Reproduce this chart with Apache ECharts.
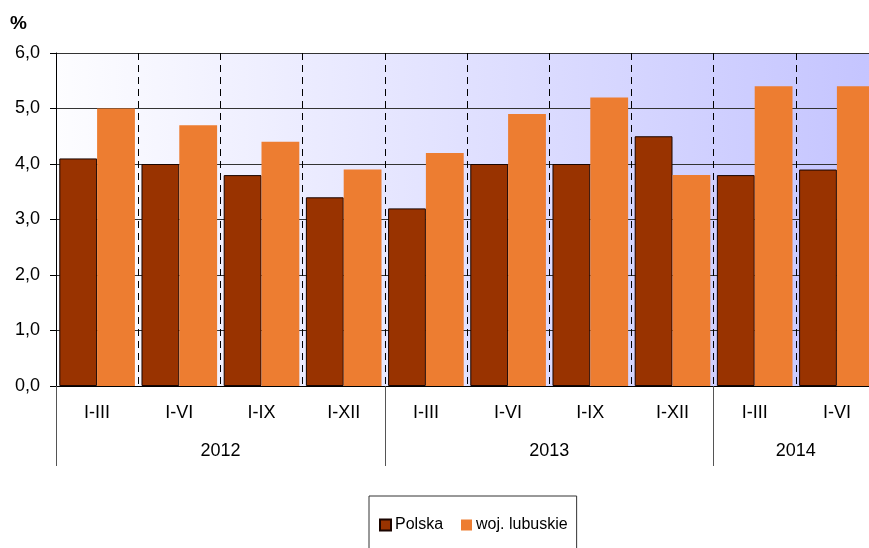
<!DOCTYPE html>
<html>
<head>
<meta charset="utf-8">
<script src="https://cdn.jsdelivr.net/npm/echarts@6/dist/echarts.min.js"></script>
<style>html,body{margin:0;padding:0;background:#fff;overflow:hidden;width:869px;height:548px;}#c{width:880px;height:548px;}</style>
</head>
<body>
<div id="c"></div>
<script>
var categories = ['I-III','I-VI','I-IX','I-XII','I-III','I-VI','I-IX','I-XII','I-III','I-VI'];
var years = ['2012','2013','2014'];
var yearCounts = [4,4,2];
var polska = [4.1,4.0,3.8,3.4,3.2,4.0,4.0,4.5,3.8,3.9];
var lubuskie = [5.0,4.7,4.4,3.9,4.2,4.9,5.2,3.8,5.4,5.4];
var yTicks = [0,1,2,3,4,5,6];

var bounds = [0], centers = [], acc = 0;
yearCounts.forEach(function(n){ centers.push(acc + n/2); acc += n; bounds.push(acc); });

var FONT = 'Liberation Sans, Arial, sans-serif';
var chart = echarts.init(document.getElementById('c'));
chart.setOption({
  animation: false,
  title: { text: '%', left: 10, top: 14, padding: 0, textStyle: { fontFamily: FONT, fontSize: 19, fontWeight: 'bold', color: '#000' } },
  grid: {
    left: 56, top: 53, width: 822, height: 333, show: true,
    borderWidth: 0,
    backgroundColor: new echarts.graphic.LinearGradient(0,0,1,0,[{offset:0,color:'#fdfdff'},{offset:1,color:'#c4c4ff'}])
  },
  legend: {
    left: 369, top: 496,
    padding: [21, 9, 21, 10],
    borderColor: '#333', borderWidth: 1,
    itemWidth: 11, itemHeight: 11, itemGap: 18,
    icon: 'rect',
    textStyle: { fontFamily: FONT, fontSize: 16, color: '#000', padding: [0,0,0,-1] },
    data: ['Polska','woj. lubuskie']
  },
  xAxis: [{
    type: 'category', data: categories, position: 'bottom',
    axisLine: { show: true, lineStyle: { color: '#000', width: 1 } },
    axisTick: { show: false },
    axisLabel: { margin: 18, fontFamily: FONT, fontSize: 18, color: '#000' },
    splitLine: { show: true, lineStyle: { color: '#000', type: [7,5], width: 1 } }
  }, {
    type: 'value', min: 0, max: categories.length, position: 'bottom',
    axisLine: { show: false },
    splitLine: { show: false },
    axisTick: { show: true, customValues: bounds.slice(0, bounds.length - 1), length: 80, lineStyle: { color: '#555', width: 1 } },
    axisLabel: {
      show: true, customValues: centers, margin: 56, fontFamily: FONT, fontSize: 18, color: '#000',
      formatter: function(v){ var i = centers.indexOf(v); return i >= 0 ? years[i] : ''; }
    }
  }],
  yAxis: {
    type: 'value', min: yTicks[0], max: yTicks[yTicks.length-1], interval: 1,
    axisLine: { show: true, lineStyle: { color: '#000' } },
    axisTick: { show: true, length: 6, lineStyle: { color: '#000' } },
    axisLabel: { margin: 16, fontFamily: FONT, fontSize: 18, color: '#000', formatter: function(v){ return v.toFixed(1).replace('.', ','); } },
    splitLine: { show: true, lineStyle: { color: '#333', width: 1 } }
  },
  series: [{
    name: 'Polska', type: 'bar', data: polska, xAxisIndex: 0,
    barGap: '0%', barCategoryGap: '8%',
    itemStyle: { color: '#993300', borderColor: '#1a0500', borderWidth: 1 }
  }, {
    name: 'woj. lubuskie', type: 'bar', data: lubuskie, xAxisIndex: 0,
    barGap: '0%', barCategoryGap: '8%',
    itemStyle: { color: '#ED7D31' }
  }]
});
</script>
</body>
</html>
